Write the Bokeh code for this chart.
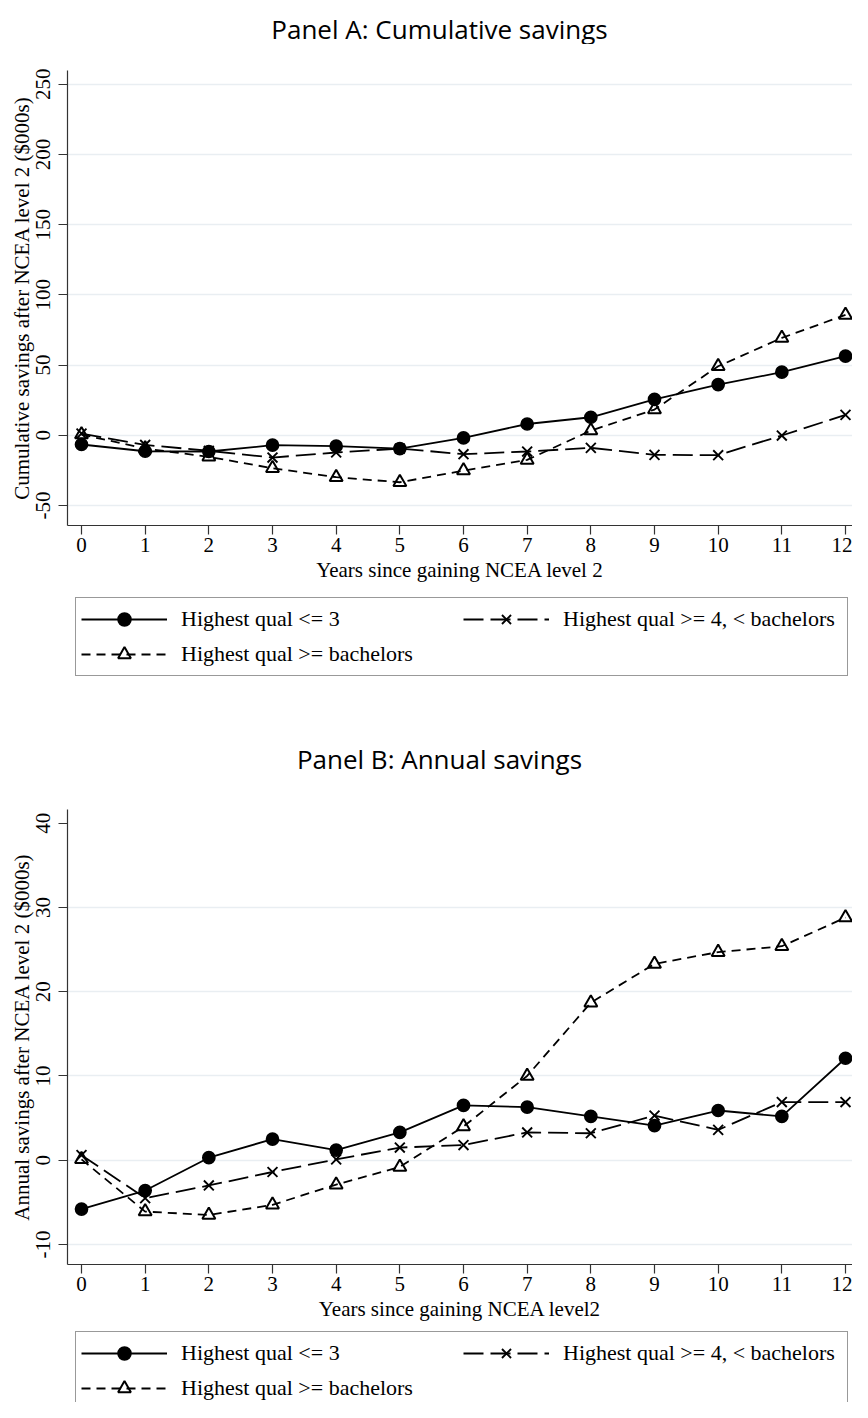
from bokeh.plotting import figure
from bokeh.models import Legend, LegendItem, FixedTicker, Range1d, Label
from bokeh.layouts import column
from bokeh.embed import file_html
from bokeh.resources import INLINE

# ---------------- data ----------------
years = list(range(13))
x_tick_labels = [str(v) for v in years]

series_labels = ["Highest qual <= 3", "Highest qual >= 4, < bachelors", "Highest qual >= bachelors"]

# Panel A: cumulative savings ($000s)
cum_le3 = [-6.6, -11.4, -11.6, -7.1, -7.8, -9.5, -1.9, 8.0, 12.8, 25.6, 36.1, 44.9, 56.3]
cum_4_bach = [1.2, -6.9, -11.1, -15.9, -12.3, -9.5, -13.5, -11.6, -9.0, -14.0, -14.2, -0.2, 14.5]
cum_bach = [0.5, -9.5, -15.4, -23.5, -29.9, -33.5, -25.2, -17.6, 3.3, 18.3, 49.1, 69.3, 85.7]
cum_yticks = [-50, 0, 50, 100, 150, 200, 250]
cum_ytick_labels = ["-50", "0", "50", "100", "150", "200", "250"]

# Panel B: annual savings ($000s)
ann_le3 = [-5.8, -3.6, 0.3, 2.5, 1.2, 3.3, 6.5, 6.3, 5.2, 4.1, 5.9, 5.2, 12.1]
ann_4_bach = [0.6, -4.5, -3.0, -1.4, 0.1, 1.5, 1.8, 3.3, 3.2, 5.3, 3.6, 6.9, 6.9]
ann_bach = [0.1, -6.1, -6.5, -5.3, -2.9, -0.8, 4.0, 10.0, 18.7, 23.3, 24.7, 25.4, 28.8]
ann_yticks = [-10, 0, 10, 20, 30, 40]
ann_ytick_labels = ["-10", "0", "10", "20", "30", "40"]
ann_gridticks = [-10, 0, 10, 20, 30]

SERIF = "Liberation Serif"
W = 852

STYLES = [dict(line_dash="solid", marker="circle", size=12, fill_color="black", line_width=1.7),
          dict(line_dash="20 7", marker="x", size=14, fill_color=None, line_width=1.9),
          dict(line_dash="9 6", marker="triangle", size=13, fill_color=None, line_width=2.0)]


def draw_series(p, xs, ys_list):
    out = []
    for ys, st in zip(ys_list, STYLES):
        ln = p.line(xs, ys, line_color="black", line_width=1.8, line_dash=st["line_dash"])
        out.append([ln])
    marks = [None, None, None]
    for i in (2, 1, 0):
        st = STYLES[i]
        kw = dict(marker=st["marker"], size=st["size"], line_color="black",
                  line_width=st["line_width"])
        if st["fill_color"] is None:
            kw["fill_alpha"] = 0
        else:
            kw["fill_color"] = st["fill_color"]
        marks[i] = p.scatter(xs, ys_list[i], **kw)
    for i in range(3):
        out[i].append(marks[i])
    return out


def blank(height):
    # a strip whose plot area is the whole canvas; its range lies away from the data,
    # so the series drawn in it only feed the legend glyphs
    p = figure(frame_width=W, frame_height=height,
               x_range=Range1d(100, 101), y_range=Range1d(100, 101),
               x_axis_type=None, y_axis_type=None, output_backend="svg",
               toolbar_location=None, min_border=0, min_border_left=0,
               min_border_right=0, min_border_top=0, min_border_bottom=0)
    p.outline_line_color = None
    p.grid.visible = False
    return p


def add_title(p, text, y_from_bottom):
    p.add_layout(Label(x=372, y=y_from_bottom, x_units="screen", y_units="screen",
                       text=text, text_align="center", text_baseline="alphabetic",
                       text_font="Open Sans", text_font_size="26px",
                       text_color="black"))


def add_legend(p, ys_list, vx, vy):
    rends = draw_series(p, years, ys_list)
    legend = Legend(items=[LegendItem(label=lab, renderers=r)
                           for lab, r in zip(series_labels, rends)],
                    location=(vx, vy), orientation="horizontal", ncols=2,
                    glyph_width=86, glyph_height=32, label_width=279,
                    label_standoff=14, spacing=3, padding=5, margin=0,
                    label_text_font=SERIF, label_text_font_size="22px",
                    label_text_color="black",
                    border_line_color="#333333", border_line_width=1.2,
                    background_fill_color="white", background_fill_alpha=1,
                    inactive_fill_alpha=0)
    p.add_layout(legend, "center")


def make_panel(ylab, xlab, ys, yticks, ytick_labels, gridticks, yr, height, top):
    p = figure(width=W, height=height,
               x_range=Range1d(-0.22, 12.11), y_range=Range1d(*yr),
               output_backend="svg", toolbar_location=None,
               min_border_left=67, min_border_right=0,
               min_border_top=top, min_border_bottom=height - top - 455)
    p.outline_line_color = None
    p.background_fill_color = "white"
    p.border_fill_color = "white"
    p.xgrid.grid_line_color = None
    p.ygrid.ticker = FixedTicker(ticks=gridticks)
    p.ygrid.grid_line_color = "#e9eef2"
    p.ygrid.grid_line_width = 1.5

    p.xaxis.ticker = FixedTicker(ticks=years)
    p.xaxis.major_label_overrides = {v: s for v, s in zip(years, x_tick_labels)}
    p.yaxis.ticker = FixedTicker(ticks=yticks)
    p.yaxis.major_label_overrides = {v: s for v, s in zip(yticks, ytick_labels)}
    for ax in (p.xaxis[0], p.yaxis[0]):
        ax.axis_line_color = "#333333"
        ax.axis_line_width = 1.2
        ax.major_tick_line_color = "#333333"
        ax.major_tick_line_width = 1.2
        ax.major_tick_out = 9
        ax.major_tick_in = 0
        ax.minor_tick_line_color = None
        ax.major_label_text_font = SERIF
        ax.major_label_text_font_size = "21px"
        ax.major_label_text_color = "black"
        ax.axis_label_text_font = SERIF
        ax.axis_label_text_font_size = "21px"
        ax.axis_label_text_font_style = "normal"
        ax.axis_label_text_color = "black"
    p.xaxis.axis_label = xlab
    p.yaxis.axis_label = ylab
    p.xaxis.major_label_standoff = 3
    p.xaxis.axis_label_standoff = 3
    p.yaxis.major_label_orientation = "vertical"
    p.yaxis.major_label_standoff = 8
    p.yaxis.axis_label_standoff = 0

    draw_series(p, years, ys)
    return p


cum_series = (cum_le3, cum_4_bach, cum_bach)
ann_series = (ann_le3, ann_4_bach, ann_bach)

# header: title of panel A
hdr_a = blank(44)
add_title(hdr_a, "Panel A: Cumulative savings", 16)

pa = make_panel("Cumulative savings after NCEA level 2 ($000s)",
                "Years since gaining NCEA level 2",
                cum_series, cum_yticks, cum_ytick_labels,
                cum_yticks, (-64.3, 259.8), 548, 26)

# middle strip: legend of panel A + title of panel B
mid = blank(195)
add_legend(mid, cum_series, 75, 111)
add_title(mid, "Panel B: Annual savings", 29)

pb = make_panel("Annual savings after NCEA level 2 ($000s)",
                "Years since gaining NCEA level2",
                ann_series, ann_yticks, ann_ytick_labels,
                ann_gridticks, (-12.38, 41.63), 544, 22)

# bottom strip: legend of panel B (cut by the window edge as in the original)
leg_b = blank(71)
add_legend(leg_b, ann_series, 75, -8)

layout = column(hdr_a, pa, mid, pb, leg_b, spacing=0)
open("out.html", "w").write(file_html(layout, INLINE))
